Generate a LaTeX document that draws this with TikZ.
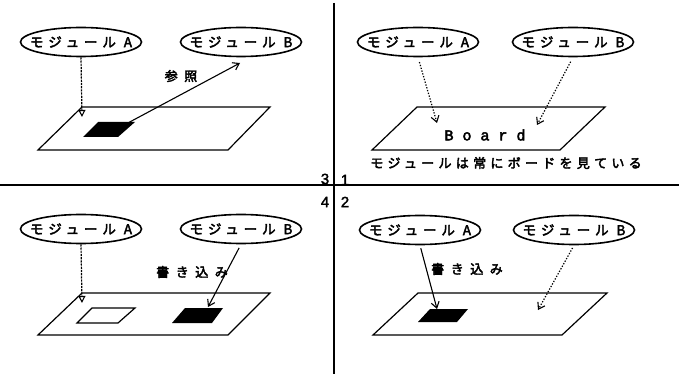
\documentclass[tikz,border=0pt]{standalone}
\usepackage{fontspec}
\usetikzlibrary{shapes.geometric,arrows.meta}
\newfontfamily\jp{Noto Sans CJK JP}[LetterSpace=36,FakeBold=3]
\newfontfamily\jpcap{Noto Sans CJK JP}[LetterSpace=33,FakeBold=3]
\newfontfamily\jplbl{Noto Sans CJK JP}[LetterSpace=50,FakeBold=3]
\newfontfamily\boardfont{Liberation Mono}[FakeBold=3]
\newfontfamily\numfont{Liberation Sans}[FakeBold=2]
\begin{document}
\begin{tikzpicture}[x=1pt,y=-1pt,
  mod/.style={ellipse, draw, line width=1.6pt, minimum width=121pt, minimum height=29pt, inner xsep=-14pt, inner ysep=0pt, font=\jp\fontsize{13.5}{13.5}\selectfont},
  board/.style={draw, line width=1.2pt, line join=miter},
  patch/.style={fill=black},
  hole/.style={draw, line width=1.2pt},
  solidarr/.style={line width=1.1pt, -{Straight Barb[length=6pt,width=8pt,line width=1.1pt]}},
  dotarr/.style={line width=1.2pt, dash pattern=on 1.3pt off 1.6pt, -{Straight Barb[length=6pt,width=8pt,line width=1.1pt]}},
  dasharr/.style={line width=1.2pt, dash pattern=on 2.2pt off 1pt, -{Triangle[open,length=7pt,width=7pt,line width=1.1pt]}},
  lbl/.style={font=\jplbl\fontsize{13}{13}\selectfont, inner sep=0pt},
  captext/.style={font=\jpcap\fontsize{13}{13}\selectfont, inner sep=0pt},
  num/.style={font=\numfont\fontsize{15}{15}\selectfont, inner sep=0pt},
  frame/.style={line width=1.6pt}]
\useasboundingbox (0,0) rectangle (679,374);
\fill[white] (0,0) rectangle (679,374);
% frame lines
\coordinate (vtop) at (334,3);
\coordinate (vbot) at (334,374);
\coordinate (hl) at (0,185);
\coordinate (hr) at (679,185);
\draw[frame] (vtop) -- (vbot);
\draw[frame] (hl) -- (hr);
% quadrant numbers
\node[num] (n3) at (325,179) {3};
\node[num] (n1) at (345,180) {1};
\node[num] (n4) at (325,202) {4};
\node[num] (n2) at (345,202) {2};

% ---------- Quadrant 3 (top left)
\node[mod] (a3) at (81,42) {モジュール A};
\node[mod] (b3) at (241,42) {モジュール B};
\draw[board] (82,107) -- (270,107) -- (228,150) -- (38,150) -- cycle;
\fill[patch] (98,122) -- (135,122) -- (118,137) -- (83,137) -- cycle;
\coordinate (t3) at (82,117);
\coordinate (p3) at (126,124);
\coordinate (e3) at (240,63);
\draw[dasharr] (a3.south) -- (t3);
\draw[solidarr] (p3) -- (e3);
\node[lbl] (r3) at (181,76) {参照};

% ---------- Quadrant 1 (top right)
\node[mod] (a1) at (418,42) {モジュール A};
\node[mod] (b1) at (573,42) {モジュール B};
\draw[board] (417,107) -- (605,107) -- (560,150) -- (372,150) -- cycle;
\coordinate (t1a) at (437,123);
\coordinate (t1b) at (537,125);
\draw[dotarr, shorten <=5pt] (a1.south) -- (t1a);
\draw[dotarr, shorten <=5pt] (b1.south) -- (t1b);
\node[font=\boardfont\fontsize{15}{15}\selectfont, inner sep=0pt] (bd) at (485,135) {B o a r d};
\node[captext] (caption) at (506,163) {モジュールは常にボードを見ている};

% ---------- Quadrant 4 (bottom left)
\node[mod] (a4) at (81,229) {モジュール A};
\node[mod] (b4) at (241,229) {モジュール B};
\draw[board] (82,293) -- (270,293) -- (228,335) -- (38,335) -- cycle;
\draw[hole] (92,308) -- (135,308) -- (118,323) -- (77,323) -- cycle;
\fill[patch] (185,308) -- (223,308) -- (212,323) -- (172,323) -- cycle;
\coordinate (t4) at (82,303);
\coordinate (e4) at (208,307);
\draw[dasharr] (a4.south) -- (t4);
\draw[solidarr, shorten <=4pt] (b4.south) -- (e4);
\node[lbl] (w4) at (192,272) {書き込み};

% ---------- Quadrant 2 (bottom right)
\node[mod] (a2) at (420,230) {モジュール A};
\node[mod] (b2) at (574,230) {モジュール B};
\draw[board] (418,293) -- (607,293) -- (562,335) -- (373,335) -- cycle;
\fill[patch] (430,309) -- (468,309) -- (457,322) -- (418,322) -- cycle;
\coordinate (e2a) at (437,309);
\coordinate (e2b) at (538,310);
\draw[solidarr, shorten <=3pt] (a2.south) -- (e2a);
\draw[dotarr, shorten <=3pt] (b2.south) -- (e2b);
\node[lbl] (w2) at (467,269) {書き込み};
\end{tikzpicture}
\end{document}
